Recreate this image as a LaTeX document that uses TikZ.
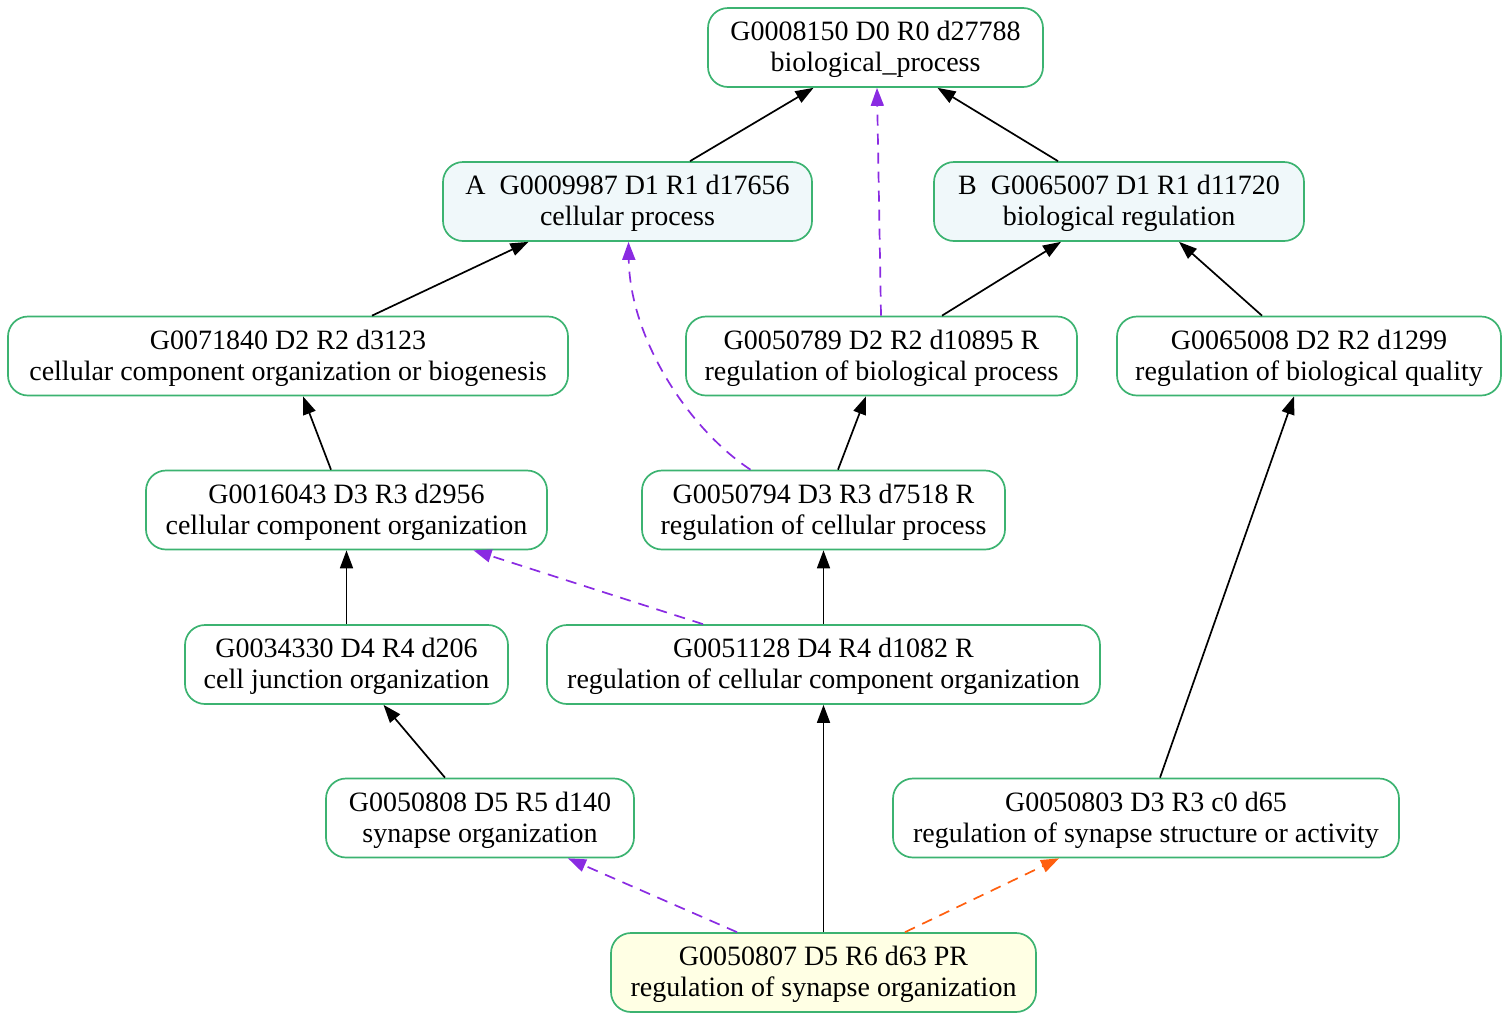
\documentclass[tikz,border=0pt]{standalone}
\usepackage{fontspec}
\setmainfont{Liberation Serif}
\usetikzlibrary{arrows.meta}
\definecolor{bordergreen}{HTML}{3CB371}
\definecolor{dpurple}{HTML}{8A2BE2}
\definecolor{dorange}{HTML}{FF5F0F}
\definecolor{fillblue}{HTML}{F0F8FA}
\definecolor{fillyellow}{HTML}{FFFFE4}
\newcommand{\tst}{\rule{0pt}{23.5pt}}
\tikzset{
  go/.style={draw=bordergreen, line width=1.7pt, rounded corners=20pt, fill=white,
    align=center, inner sep=0pt, minimum height=79pt,
    font=\fontsize{28}{31}\selectfont},
  edge/.style={line width=1.7pt, -{Triangle[length=18pt,width=13pt]}},
  dedge/.style={edge, dash pattern=on 11pt off 8pt},
}
\begin{document}
\begin{tikzpicture}[x=1pt,y=-1pt]
\useasboundingbox (0,0) rectangle (1510,1021);
\node[go, minimum width=335pt] (n0) at (875.5,47.5) {\tst G0008150 D0 R0 d27788\\biological\_process};
\node[go, minimum width=369pt, fill=fillblue] (a) at (627.5,201.5) {\tst A\ \ G0009987 D1 R1 d17656\\cellular process};
\node[go, minimum width=370pt, fill=fillblue] (b) at (1119,201.5) {\tst B\ \ G0065007 D1 R1 d11720\\biological regulation};
\node[go, minimum width=560pt] (n71840) at (288,356) {\tst G0071840 D2 R2 d3123\\cellular component organization or biogenesis};
\node[go, minimum width=391pt] (n50789) at (881.5,356) {\tst G0050789 D2 R2 d10895 R\\regulation of biological process};
\node[go, minimum width=384pt] (n65008) at (1309,356) {\tst G0065008 D2 R2 d1299\\regulation of biological quality};
\node[go, minimum width=401pt] (n16043) at (346.5,510) {\tst G0016043 D3 R3 d2956\\cellular component organization};
\node[go, minimum width=363pt] (n50794) at (823.5,510) {\tst G0050794 D3 R3 d7518 R\\regulation of cellular process};
\node[go, minimum width=323pt] (n34330) at (346.5,664.5) {\tst G0034330 D4 R4 d206\\cell junction organization};
\node[go, minimum width=553pt] (n51128) at (823.5,664.5) {\tst G0051128 D4 R4 d1082 R\\regulation of cellular component organization};
\node[go, minimum width=308pt] (n50808) at (480,818) {\tst G0050808 D5 R5 d140\\synapse organization};
\node[go, minimum width=506pt] (n50803) at (1146,818) {\tst G0050803 D3 R3 c0 d65\\regulation of synapse structure or activity};
\node[go, minimum width=425pt, fill=fillyellow] (n50807) at (823.5,972.5) {\tst G0050807 D5 R6 d63 PR\\regulation of synapse organization};

\draw[edge] ([xshift=62.5pt]a.north) -- ([xshift=-62pt]n0.south);
\draw[edge] ([xshift=-61pt]b.north) -- ([xshift=62pt]n0.south);
\draw[dedge, dpurple] ([xshift=-0.5pt]n50789.north) -- ([xshift=1.5pt]n0.south);
\draw[edge] ([xshift=84pt]n71840.north) -- ([xshift=-99pt]a.south);
\draw[dedge, dpurple] ([xshift=-73pt]n50794.north) .. controls (690,430) and (630,340) .. ([xshift=1pt]a.south);
\draw[edge] ([xshift=60.5pt]n50789.north) -- ([xshift=-58pt]b.south);
\draw[edge] ([xshift=-47pt]n65008.north) -- ([xshift=60pt]b.south);
\draw[edge] ([xshift=-15.5pt]n16043.north) -- ([xshift=15pt]n71840.south);
\draw[edge] ([xshift=14.5pt]n50794.north) -- ([xshift=-15.5pt]n50789.south);
\draw[edge] (n34330.north) -- (n16043.south);
\draw[dedge, dpurple] ([xshift=-120.5pt]n51128.north) -- ([xshift=127pt]n16043.south);
\draw[edge] (n51128.north) -- (n50794.south);
\draw[edge] ([xshift=-35pt]n50808.north) -- ([xshift=37pt]n34330.south);
\draw[dedge, dpurple] ([xshift=-86.5pt]n50807.north) -- ([xshift=88pt]n50808.south);
\draw[edge] (n50807.north) -- (n51128.south);
\draw[dedge, dorange] ([xshift=81.5pt]n50807.north) -- ([xshift=-87pt]n50803.south);
\draw[edge] ([xshift=14pt]n50803.north) -- ([xshift=-15pt]n65008.south);
\end{tikzpicture}
\end{document}
